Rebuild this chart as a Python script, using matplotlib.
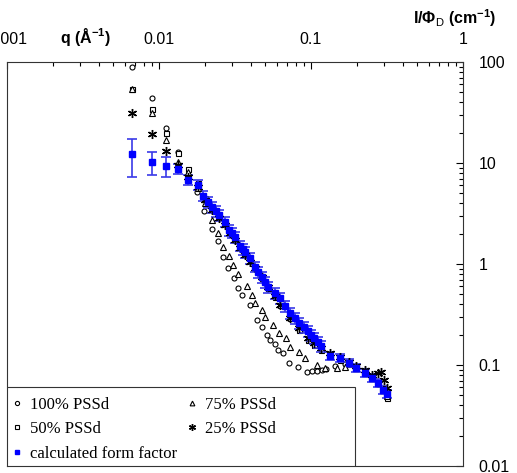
import numpy as np
import matplotlib
matplotlib.use("Agg")
import matplotlib.pyplot as plt
from matplotlib.ticker import LogLocator, FuncFormatter, NullFormatter
from matplotlib.lines import Line2D
from matplotlib.patches import Rectangle

# --- data (q in 1/A, I/Phi_D in 1/cm) ---
q_100 = [0.00665, 0.00899, 0.0111, 0.0133, 0.0155, 0.0178, 0.0198, 0.0223, 0.0244, 0.0264,
         0.0284, 0.0312, 0.0331, 0.0352, 0.0397, 0.0441, 0.0476, 0.0514, 0.0537, 0.0580,
         0.0607, 0.0654, 0.0717, 0.0821, 0.0941, 0.1015, 0.1095, 0.118, 0.1255, 0.144,
         0.167, 0.198, 0.227, 0.252, 0.276, 0.298, 0.316]
I_100 = [89.2, 44.0, 22.2, 12.9, 7.61, 5.16, 3.35, 2.22, 1.69, 1.17,
         0.913, 0.727, 0.579, 0.493, 0.393, 0.279, 0.238, 0.198, 0.177, 0.161,
         0.141, 0.131, 0.105, 0.0955, 0.0852, 0.0872, 0.0872, 0.0892, 0.0913, 0.0977,
         0.102, 0.0955, 0.0852, 0.0743, 0.0648, 0.0565, 0.0493]

q_75 = [0.00665, 0.00899, 0.0111, 0.0133, 0.0155, 0.0181, 0.0201, 0.0223, 0.0244, 0.0264,
        0.0289, 0.0307, 0.0331, 0.0379, 0.0409, 0.0428, 0.0476, 0.0498, 0.0562, 0.0616,
        0.0685, 0.0727, 0.0834, 0.0913, 0.1095, 0.124, 0.148, 0.167, 0.198, 0.227,
        0.252, 0.276, 0.298, 0.316]
I_75 = [54.0, 31.3, 16.9, 10.2, 8.15, 5.66, 4.02, 2.73, 2.03, 1.47,
        1.20, 0.977, 0.796, 0.606, 0.493, 0.411, 0.350, 0.299, 0.249, 0.207,
        0.185, 0.151, 0.134, 0.117, 0.100, 0.0934, 0.0934, 0.0955, 0.0934, 0.0852,
        0.0743, 0.0663, 0.0565, 0.0493]

q_50 = [0.00665, 0.00899, 0.0111, 0.0133, 0.0155, 0.0181, 0.0201, 0.0223, 0.0248, 0.0272,
        0.0293, 0.0316, 0.0341, 0.0368, 0.0397, 0.0428, 0.0476, 0.0522, 0.0580, 0.0625,
        0.0727, 0.0834, 0.0956, 0.105, 0.116, 0.133, 0.155, 0.178, 0.198, 0.227,
        0.252, 0.276, 0.298, 0.316]
I_50 = [54.0, 34.2, 19.8, 12.6, 8.72, 6.34, 4.50, 3.58, 2.92, 2.49,
        2.07, 1.73, 1.47, 1.26, 1.07, 0.913, 0.727, 0.579, 0.471, 0.393,
        0.292, 0.222, 0.177, 0.158, 0.141, 0.123, 0.112, 0.102, 0.0977, 0.0892,
        0.0778, 0.0679, 0.0565, 0.0471]

q_25 = [0.00665, 0.00899, 0.0111, 0.0133, 0.0155, 0.0181, 0.0201, 0.0223, 0.0248, 0.0272,
        0.0293, 0.0316, 0.0341, 0.0368, 0.0397, 0.0428, 0.0476, 0.0522, 0.0580, 0.0625,
        0.0727, 0.0834, 0.0956, 0.105, 0.116, 0.133, 0.155, 0.178, 0.198, 0.227,
        0.252, 0.276, 0.289, 0.302, 0.316]
I_25 = [31.3, 19.4, 13.2, 9.55, 7.27, 5.79, 4.30, 3.42, 2.85, 2.43,
        2.03, 1.73, 1.44, 1.23, 1.05, 0.913, 0.744, 0.592, 0.482, 0.393,
        0.292, 0.232, 0.185, 0.165, 0.147, 0.131, 0.120, 0.107, 0.0977, 0.0892,
        0.0796, 0.0833, 0.0852, 0.0710, 0.0592]

q_ff = [0.00665, 0.00899, 0.0111, 0.0133, 0.0155, 0.0181, 0.0195, 0.0210, 0.0223, 0.0237,
        0.0248, 0.0272, 0.0289, 0.0302, 0.0316, 0.0341, 0.0357, 0.0368, 0.0397, 0.0428,
        0.0448, 0.0476, 0.0498, 0.0522, 0.0580, 0.0625, 0.0675, 0.0727, 0.0785, 0.0834,
        0.0900, 0.0956, 0.100, 0.105, 0.111, 0.116, 0.133, 0.155, 0.178, 0.198,
        0.227, 0.252, 0.276, 0.298, 0.316]
I_ff = [12.3, 10.2, 9.34, 8.72, 6.79, 6.06, 4.71, 4.11, 3.67, 3.35,
        3.06, 2.61, 2.17, 2.03, 1.85, 1.51, 1.41, 1.31, 1.15, 0.934,
        0.833, 0.744, 0.664, 0.592, 0.516, 0.461, 0.384, 0.327, 0.292, 0.260,
        0.238, 0.217, 0.198, 0.185, 0.169, 0.154, 0.123, 0.117, 0.105, 0.0934,
        0.0833, 0.0743, 0.0663, 0.0565, 0.0516]
err_ff = [5.1, 2.6, 2.1, 1.0, 0.8, 0.7, 0.55, 0.5, 0.45, 0.4,
          0.37, 0.31, 0.26, 0.24, 0.22, 0.18, 0.17, 0.16, 0.14, 0.11,
          0.10, 0.09, 0.08, 0.07, 0.062, 0.055, 0.046, 0.039, 0.035, 0.031,
          0.029, 0.026, 0.024, 0.022, 0.020, 0.018, 0.012, 0.011, 0.010, 0.009,
          0.008, 0.007, 0.006, 0.005, 0.005]

W, H = 517, 473
fig = plt.figure(figsize=(W / 100, H / 100), dpi=100)
ax = fig.add_axes([7 / W, 1 - 466 / H, 456 / W, 404 / H])

blk = dict(linestyle="none", mfc="white", mec="black", mew=0.8)
ax.plot(q_100, I_100, marker="o", ms=3.6, **blk)
ax.plot(q_50, I_50, marker="s", ms=3.6, **blk)
ax.errorbar(q_ff, I_ff, yerr=err_ff, fmt="s", ms=4, color="#0000ff", ecolor="#3a3ae8",
            elinewidth=1.2, capsize=3.5, capthick=1.2)
ax.plot(q_75, I_75, marker="^", ms=4, **blk)
ax.plot(q_25, I_25, marker=(6, 2, 0), ms=6.5, linestyle="none", color="black", mew=1.0)

ax.set_xscale("log")
ax.set_yscale("log")
ax.set_xlim(0.001, 1)
ax.set_ylim(0.01, 100)

fmt = FuncFormatter(lambda v, p: "%g" % v)
for axis in (ax.xaxis, ax.yaxis):
    axis.set_major_locator(LogLocator(base=10, numticks=10))
    axis.set_minor_locator(LogLocator(base=10, subs=np.arange(2, 10), numticks=20))
    axis.set_major_formatter(fmt)
    axis.set_minor_formatter(NullFormatter())

ax.tick_params(which="both", direction="in", top=True, right=True, bottom=False, left=False,
               labeltop=True, labelright=True, labelbottom=False, labelleft=False,
               width=0.8, colors="black", labelsize=11.5, pad=11)
ax.tick_params(which="major", length=5)
ax.tick_params(which="minor", length=3)
for lab in ax.get_xticklabels() + ax.get_yticklabels():
    lab.set_family("Liberation Sans")
for s in ax.spines.values():
    s.set_linewidth(0.8)
    s.set_color("#333333")

plt.rcParams["mathtext.fontset"] = "custom"
plt.rcParams["mathtext.rm"] = "Liberation Sans"
plt.rcParams["mathtext.bf"] = "Liberation Sans:bold"
fig.text(85 / W, 1 - 37 / H, r"q (Å$^{\mathbf{-1}}$)", family="Liberation Sans", weight="bold",
         fontsize=11.5, ha="center", va="center")
fig.text(455 / W, 1 - 18 / H, r"I/$\mathbf{\Phi}_{\mathrm{D}}$ (cm$^{\mathbf{-1}}$)",
         family="Liberation Sans", weight="bold", fontsize=11.5, ha="center", va="center")

# legend: frame drawn as a box in axes coords, entries without their own frame
box = Rectangle((0, 0), 348 / 456, 79 / 404, transform=ax.transAxes, facecolor="white",
                edgecolor="#333333", lw=0.8, zorder=5)
ax.add_patch(box)
hd = [Line2D([], [], marker="o", ms=3, **blk),
      Line2D([], [], marker="s", ms=3, **blk),
      Line2D([], [], marker="s", ms=3, ls="none", color="#0000ff"),
      Line2D([], [], marker="^", ms=3.4, **blk),
      Line2D([], [], marker=(6, 2, 0), ms=5, ls="none", color="black", mew=1.0)]
labels = ["100% PSSd", "50% PSSd", "calculated form factor", "75% PSSd", "25% PSSd"]
leg = ax.legend(hd, labels, ncol=2, loc="lower left", bbox_to_anchor=(0, 0),
                borderaxespad=0, frameon=False, handlelength=0.7, handletextpad=0.42,
                labelspacing=0.52, borderpad=0.25, columnspacing=0.55,
                prop={"family": "Liberation Serif", "size": 12})
leg.set_zorder(6)

fig.savefig("out.png", dpi=100)
